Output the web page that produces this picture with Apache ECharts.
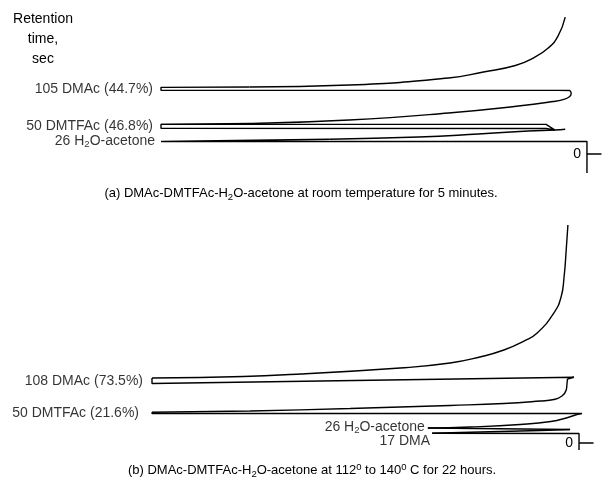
<!DOCTYPE html>
<html>
<head>
<meta charset="utf-8">
<script src="https://cdn.jsdelivr.net/npm/echarts@6/dist/echarts.min.js"></script>
<style>
html, body { margin: 0; background: #fff; }
#chart { width: 604px; height: 490px; }
</style>
</head>
<body>
<div id="chart"></div>
<script>
// recorder trace pieces, [signal % of full scale, retention time s]
// "edge" pieces are drawn straight, "tail" pieces smoothed

// panel (a): room temperature, 5 minutes
const aBaseH2O = [[0, -31], [0, 20.4], [100, 20.4], [100, 23.1], [60.5, 24.0]];
const aTailH2O = [[60.5, 24.0], [39.5, 27.7], [25.5, 32.6], [13.8, 37.5], [7.5, 39.1], [5.1, 40.3]];
const aEdgeDMTFAc = [[7.5, 39.1], [9.6, 41.6], [100, 41.9], [100, 48.4], [9.6, 48.4], [7.5, 39.1]];
const aTailDMTFAc = [[100, 48.4], [79.2, 49.7], [55.8, 55.4], [32.5, 66.8], [16.1, 78.2], [7.9, 85.6], [5.6, 88.8], [4.2, 92.9], [3.7, 98.6], [4.0, 103.5]];
const aEdgeDMAc = [[4.0, 103.5], [6.8, 103.8], [100, 103.8], [100, 108.7], [79.2, 109.2]];
const aTailDMAc = [[79.2, 109.2], [55.8, 112.5], [32.5, 123.9], [24.3, 133.7], [16.8, 144.3], [12.6, 156.5], [9.1, 172.8], [6.8, 192.3], [5.1, 223.3]];

// panel (b): 112 to 140 C, 22 hours
const bBaseDMA = [[0, -12.1], [0, 16.4], [34.4, 16.7]];
const bTailDMA = [[34.4, 16.7], [23.2, 19.0], [9.1, 21.6], [2.1, 23.3]];
const bEdgeH2O = [[2.1, 23.3], [35.4, 25.9]];
const bTailH2O = [[35.4, 25.9], [25.5, 27.6], [13.8, 31.9], [6.6, 37.1], [2.6, 44.0], [0.5, 49.1]];
const bEdgeDMTFAc = [[0.5, 49.1], [-0.7, 50.9], [100, 50.9], [100, 52.9]];
const bTailDMTFAc = [[100, 52.9], [77.0, 55.2], [53.6, 59.5], [30.2, 64.7], [17.6, 68.1], [9.1, 72.4], [5.9, 75.0], [4.0, 81.0], [3.0, 91.4], [2.8, 103.4], [2.7, 110.3]];
const bEdgeDMAc = [[2.7, 110.3], [1.2, 113.3], [100, 102.6], [100, 112.1]];
const bTailDMAc = [[100, 112.1], [88.8, 112.9], [65.3, 119.0], [41.9, 129.3], [30.2, 137.9], [23.2, 148.3], [17.6, 160.3], [12.8, 176.0], [9.8, 189.7], [5.9, 224.1], [4.2, 251.7], [3.5, 286.2], [3.0, 332.8], [2.6, 375.9]];

// peak labels
const peakRtA = [105, 50, 26];
const peakNameA = ['DMAc', 'DMTFAc', 'H2O-acetone'];
const peakPctA = ['44.7', '46.8', ''];
const tipSignalA = [100, 100, 100];
const tipTimeA = [106.3, 45.2, 21.8];

const peakRtB = [108, 50, 26, 17];
const peakNameB = ['DMAc', 'DMTFAc', 'H2O-acetone', 'DMA'];
const peakPctB = ['73.5', '21.6', '', ''];
const tipSignalB = [100, 100, 35.4, 34.4];
const tipTimeB = [106.9, 51.7, 27.6, 16.7];

// injection mark at t = 0
const injectSignal = [0, -3.4];
const injectTime = [0, 0];

const FONT = 'Liberation Sans';
const rich = {
    sub: { fontFamily: FONT, fontSize: 9.5, padding: [7, 0, 0, 0], color: '#000' },
    sup: { fontFamily: FONT, fontSize: 9.5, padding: [0, 0, 7, 0], color: '#000' }
};

const peakText = (rt, name, pct) =>
    rt + ' ' + name.replace('H2O', 'H{sub|2}O') + (pct ? ' (' + pct + '%)' : '');

const chart = echarts.init(document.getElementById('chart'));

const traceSeries = (data, idx, smooth) => ({
    type: 'line',
    xAxisIndex: idx,
    yAxisIndex: idx,
    data: data,
    symbol: 'none',
    smooth: smooth ? 0.5 : false,
    clip: false,
    lineStyle: { color: '#000', width: 1.4 },
    silent: true
});

const labelSeries = (sig, time, rt, names, pct, idx, extra) => ({
    type: 'scatter',
    xAxisIndex: idx,
    yAxisIndex: idx,
    symbolSize: 0,
    clip: false,
    silent: true,
    data: sig.map((s, i) => ({
        value: [s, time[i]],
        label: Object.assign({
            show: true,
            position: 'left',
            distance: 8,
            formatter: peakText(rt[i], names[i], pct[i]),
            fontFamily: FONT,
            fontSize: 14,
            color: '#000',
            rich: rich
        }, (extra && extra[i]) || {})
    }))
});

const markSeries = (idx) => ({
    type: 'line',
    xAxisIndex: idx,
    yAxisIndex: idx,
    data: injectSignal.map((s, i) => [s, injectTime[i]]),
    symbol: 'none',
    silent: true,
    lineStyle: { color: '#000', width: 1.4 },
    markPoint: {
        symbolSize: 0,
        label: { show: true, position: 'left', distance: 6, formatter: '0', fontFamily: FONT, fontSize: 14, color: '#000' },
        data: [{ coord: [0, 0] }]
    }
});

const hiddenAxis = { show: false, splitLine: { show: false } };

const piecesA = [[aBaseH2O, false], [aTailH2O, true], [aEdgeDMTFAc, false], [aTailDMTFAc, true], [aEdgeDMAc, false], [aTailDMAc, true]];
const piecesB = [[bBaseDMA, false], [bTailDMA, true], [bEdgeH2O, false], [bTailH2O, true], [bEdgeDMTFAc, false], [bTailDMTFAc, true], [bEdgeDMAc, false], [bTailDMAc, true]];

chart.setOption({
    animation: false,
    backgroundColor: '#fff',
    textStyle: { fontFamily: FONT, color: '#000' },
    title: [
        {
            text: 'Retention\ntime,\nsec',
            left: 43, top: 9, padding: 0, textAlign: 'center',
            textStyle: { fontFamily: FONT, fontSize: 14, fontWeight: 'normal', lineHeight: 20, color: '#000' }
        },
        {
            text: '(a) DMAc-DMTFAc-H{sub|2}O-acetone at room temperature for 5 minutes.',
            left: 301, top: 185, padding: 0, textAlign: 'center',
            textStyle: { fontFamily: FONT, fontSize: 13, fontWeight: 'normal', color: '#000', rich: rich }
        },
        {
            text: '(b) DMAc-DMTFAc-H{sub|2}O-acetone at 112{sup|0} to 140{sup|0} C for 22 hours.',
            left: 312, top: 462, padding: 0, textAlign: 'center',
            textStyle: { fontFamily: FONT, fontSize: 13, fontWeight: 'normal', color: '#000', rich: rich }
        }
    ],
    grid: [
        { left: 161, width: 445.1, top: 16, height: 159.5 },
        { left: 152, width: 444.1, top: 222.6, height: 232 }
    ],
    xAxis: [
        Object.assign({ type: 'value', gridIndex: 0, min: -4, max: 100, inverse: true }, hiddenAxis),
        Object.assign({ type: 'value', gridIndex: 1, min: -4, max: 100, inverse: true }, hiddenAxis)
    ],
    yAxis: [
        Object.assign({ type: 'value', gridIndex: 0, min: -35, max: 225 }, hiddenAxis),
        Object.assign({ type: 'value', gridIndex: 1, min: -20, max: 380 }, hiddenAxis)
    ],
    series: [
        ...piecesA.map(p => traceSeries(p[0], 0, p[1])),
        ...piecesB.map(p => traceSeries(p[0], 1, p[1])),
        markSeries(0),
        markSeries(1),
        labelSeries(tipSignalA, tipTimeA, peakRtA, peakNameA, peakPctA, 0,
            [null, null, { distance: 6 }]),
        labelSeries(tipSignalB, tipTimeB, peakRtB, peakNameB, peakPctB, 1,
            [{ distance: 9 }, { distance: 13 }, { distance: 3 }, { distance: 2, offset: [0, 8] }])
    ]
});
</script>
</body>
</html>
